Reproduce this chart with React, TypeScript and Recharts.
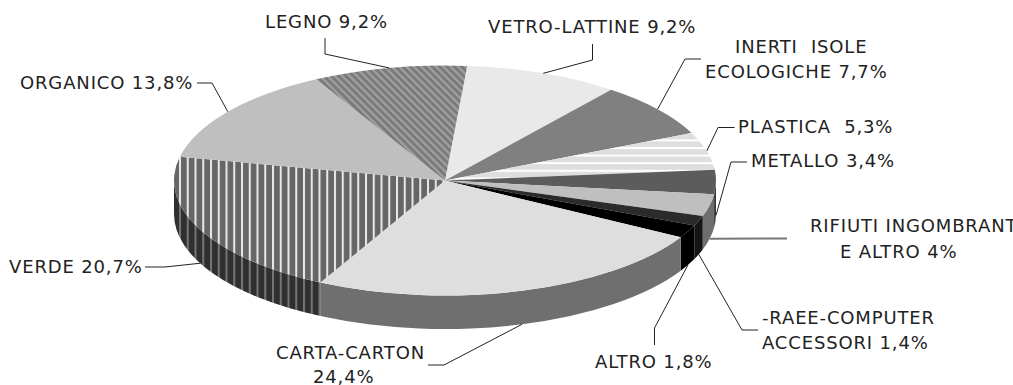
import { Pie, PieChart } from "recharts";

const categories = [
  "VETRO-LATTINE", "INERTI ISOLE ECOLOGICHE", "PLASTICA", "METALLO", "RIFIUTI INGOMBRANTI E ALTRO",
  "RAEE-COMPUTER ACCESSORI", "ALTRO", "CARTA-CARTON", "VERDE", "ORGANICO", "LEGNO",
];
// slice sizes as drawn (the "4%" label is really a 3,1% slice in the picture)
const values = [9.2, 7.7, 5.3, 3.4, 3.1, 1.4, 1.8, 24.4, 20.7, 13.8, 9.2];
const labelLines = [
  ["VETRO-LATTINE 9,2%"],
  ["INERTI  ISOLE", "ECOLOGICHE 7,7%"],
  ["PLASTICA  5,3%"],
  ["METALLO 3,4%"],
  ["RIFIUTI INGOMBRANTI", "E ALTRO 4%"],
  ["-RAEE-COMPUTER", "ACCESSORI 1,4%"],
  ["ALTRO 1,8%"],
  ["CARTA-CARTON", "24,4%"],
  ["VERDE 20,7%"],
  ["ORGANICO 13,8%"],
  ["LEGNO 9,2%"],
];

const topFills = [
  "#e9e9e9", "#808080", "url(#plastica)", "#5c5c5c", "#bfbfbf", "#2b2b2b",
  "#000000", "#dedede", "url(#verde)", "#bfbfbf", "url(#legno)",
];
const wallFills = [
  "#8a8a8a", "#505050", "#8a8a8a", "#3a3a3a", "#6e6e6e", "#141414",
  "#000000", "#6f6f6f", "url(#verdeWall)", "#6e6e6e", "#505050",
];

// text start x / baseline per line, then the leader's fixed points
const labelLayout = [
  { text: [[488, 33]], leader: [[592.5, 44], [592.5, 60]] },
  { text: [[735, 53], [705, 78]], leader: [[701, 59], [685, 59]] },
  { text: [[738, 133]], leader: [[734.5, 127.5], [718, 127.5]] },
  { text: [[751, 167]], leader: [[747, 162], [731, 162]] },
  { text: [[810, 232], [840, 258]], leader: [[787, 238.5]], stroke: "#777777", strokeWidth: 2 },
  { text: [[762, 324], [762, 349]], leader: [[758, 330], [742, 330]] },
  { text: [[595, 368]], leader: [[654.5, 345], [654.5, 328]] },
  { text: [[276, 359], [313, 383]], leader: [[428, 365], [444, 365]] },
  { text: [[9, 273]], leader: [[145, 267], [165, 267]] },
  { text: [[20, 89]], leader: [[197, 83], [212, 83]] },
  { text: [[265, 28]], leader: [[325, 38], [325, 54]] },
];

const tableTop = categories.map((name, i) => ({ name, value: values[i], fill: topFills[i] }));
const tableWall = categories.map((name, i) => ({ name, value: values[i], fill: wallFills[i] }));

const CX = 445;
const CY = 180.5;
const RX = 271;
const RY = 115;
const DEPTH = 33.5;
const START = 85.3;

const rad = (a: number) => (a * Math.PI) / 180;
const px = (a: number) => CX + RX * Math.cos(rad(a));
const py = (a: number) => CY - RY * Math.sin(rad(a));

function TopSlice(props: any) {
  const { startAngle: a, endAngle: b, fill } = props;
  const large = Math.abs(a - b) > 180 ? 1 : 0;
  const d = `M${CX},${CY} L${px(a)},${py(a)} A${RX},${RY} 0 ${large} 1 ${px(b)},${py(b)} Z`;
  return <path d={d} fill={fill} stroke="none" />;
}

function WallSlice(props: any) {
  const { fill } = props;
  // only the front half of the rim shows a wall
  const a = Math.min(props.startAngle, 0);
  const b = Math.max(props.endAngle, -180);
  if (a <= b) return null;
  const d =
    `M${px(a)},${py(a)} A${RX},${RY} 0 0 1 ${px(b)},${py(b)} ` +
    `L${px(b)},${py(b) + DEPTH} A${RX},${RY} 0 0 0 ${px(a)},${py(a) + DEPTH} Z`;
  return <path d={d} fill={fill} stroke="none" />;
}

function SliceLabel(props: any) {
  const { index, midAngle } = props;
  const layout = labelLayout[index];
  const endY = py(midAngle) + (Math.sin(rad(midAngle)) < 0 ? DEPTH : 0);
  const points = [...layout.leader, [px(midAngle), endY]].map((p) => p.join(",")).join(" ");
  return (
    <g>
      <polyline
        points={points}
        fill="none"
        stroke={layout.stroke ?? "#222222"}
        strokeWidth={layout.strokeWidth ?? 1}
      />
      {labelLines[index].map((line: string, i: number) => (
        <text
          key={line}
          x={layout.text[i][0]}
          y={layout.text[i][1]}
          fill="#222222"
          fontFamily="DejaVu Sans"
          fontSize={18}
          letterSpacing={0.85}
          xmlSpace="preserve"
        >
          {line}
        </text>
      ))}
    </g>
  );
}

export default function App() {
  return (
    <div style={{ position: "absolute", left: 0, top: 0, width: 1013, height: 385, background: "#fff" }}>
      <PieChart width={1013} height={385} margin={{ top: 0, right: 0, bottom: 0, left: 0 }}>
        <defs>
          <pattern id="verde" patternUnits="userSpaceOnUse" x={179} y={0} width={7.75} height={10}>
            <rect width={7.75} height={10} fill="#666666" />
            <rect width={2} height={10} fill="#e8e8e8" />
          </pattern>
          <pattern id="verdeWall" patternUnits="userSpaceOnUse" x={179} y={0} width={7.75} height={10}>
            <rect width={7.75} height={10} fill="#2f2f2f" />
            <rect width={2} height={10} fill="#757575" />
          </pattern>
          <pattern id="plastica" patternUnits="userSpaceOnUse" x={0} y={147} width={10} height={7.6}>
            <rect width={10} height={7.6} fill="#dedede" />
            <rect width={10} height={2} fill="#ffffff" />
          </pattern>
          <pattern id="legno" patternUnits="userSpaceOnUse" width={5.2} height={10} patternTransform="rotate(-45)">
            <rect width={5.2} height={10} fill="#7a7a7a" />
            <rect width={2.2} height={10} fill="#a0a0a0" />
          </pattern>
        </defs>
        <Pie
          data={tableWall}
          dataKey="value"
          cx={CX}
          cy={CY}
          outerRadius={RX}
          startAngle={START}
          endAngle={START - 360}
          stroke="none"
          shape={WallSlice}
          isAnimationActive={false}
        />
        <Pie
          data={tableTop}
          dataKey="value"
          cx={CX}
          cy={CY}
          outerRadius={RX}
          startAngle={START}
          endAngle={START - 360}
          stroke="none"
          shape={TopSlice}
          label={SliceLabel}
          labelLine={false}
          isAnimationActive={false}
        />
      </PieChart>
    </div>
  );
}
